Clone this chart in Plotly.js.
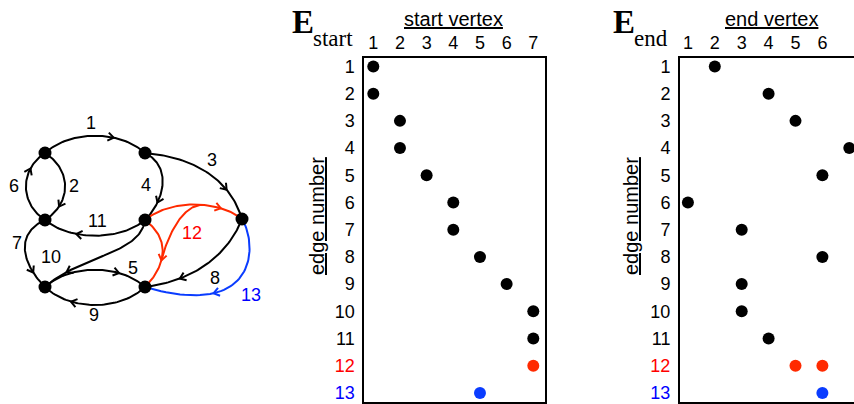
<!DOCTYPE html>
<html><head><meta charset="utf-8">
<script src="https://cdn.plot.ly/plotly-3.0.1.min.js"></script>
<style>html,body{margin:0;padding:0;background:#fff;} #chart{width:854px;height:404px;}</style>
</head><body><div id="chart"></div>
<script>
// ---------------- data ----------------
const vertices    = [1, 2, 3, 4, 5, 6, 7];
const vertexX     = [45, 145, 45, 45, 242, 145, 145];
const vertexY     = [153, 153, 287, 220, 219, 287, 220];
const edges       = [1, 2, 3, 4, 5, 6, 7, 8, 9, 10, 11, 12, 13];
const startVertex = [1, 1, 2, 2, 3, 4, 4, 5, 6, 7, 7, 7, 5];
const endEdge     = [1, 2, 3, 4, 5, 6, 7, 8, 9, 10, 11, 12, 12, 13];
const endVertex   = [2, 4, 5, 7, 6, 1, 3, 6, 3, 3, 4, 5, 6, 6];
const colTicks    = [1, 2, 3, 4, 5, 6, 7];
const rowTicks    = [1, 2, 3, 4, 5, 6, 7, 8, 9, 10, 11, 12, 13];
const rowLabels   = ['1','2','3','4','5','6','7','8','9','10','11','12','13'];

// ---------------- styles ----------------
const W = 854, H = 404;
const px = x => x / W, py = y => 1 - y / H;
const RED = '#ff2a00', BLUE = '#0a3cff', REDT = '#ff0000', BLUET = '#0000ff';
const SANS = 'Liberation Sans, Arial, Helvetica, sans-serif';
const SERIF = 'Liberation Serif, Times New Roman, serif';
const edgeColor = e => e === 12 ? RED : (e === 13 ? BLUE : '#000');
const edgeTextColor = e => e === 12 ? REDT : (e === 13 ? BLUET : '#000');

// curve shape per entry of endEdge: [u1,v1,u2,v2,arrowT] (control points relative to chord)
const curveStyle = [
  [0.25, -0.23, 0.75, -0.23, 0.65],
  [0.25, -0.40, 0.75, -0.40, 0.75],
  [0.37, -0.21, 0.73, -0.22, 0.70],
  [0.20, -0.40, 0.70, -0.30, 0.72],
  [0.25, -0.23, 0.75, -0.23, 0.70],
  [0.25, -0.38, 0.75, -0.38, 0.72],
  [0.20, 0.45, 0.65, 0.35, 0.78],
  [0.233, -0.156, 0.586, -0.218, 0.75],
  [0.25, -0.24, 0.75, -0.24, 0.70],
  [0.196, -0.218, 0.61, 0.059, 0.80],
  [0.25, -0.21, 0.75, -0.21, 0.65],
  [0.25, -0.206, 0.75, -0.206, 0.74],
  [0.30, -0.40, 0.70, -0.30, 0.57],
  [0.015, -0.257, 0.379, -0.776, 0.72]
];
// branch of hyper-edge 12 linking its two curves (curve index, parameter)
const connector = {edge: 12, fromCurve: 12, fromT: 0.58, toCurve: 11, toT: 0.6,
  startDir: [0.25, -1], startLen: 22, endLen: 22};
// edge label placement (graph pixel space)
const labelPos = {1:[91,123],2:[74,186],3:[212,160],4:[146,185],5:[133,268],6:[14,186],7:[17,243],
  8:[215,278],9:[94,315],10:[51,257],11:[97,221],12:[192,233],13:[251,295]};

// ---------------- geometry helpers ----------------
function ctrl(p0, p3, u, v) {
  const dx = p3[0] - p0[0], dy = p3[1] - p0[1];
  return [p0[0] + u * dx - v * dy, p0[1] + u * dy + v * dx];
}
function bez(p0, c1, c2, p3, t) {
  const m = 1 - t;
  const a = m*m*m, b = 3*m*m*t, c = 3*m*t*t, d = t*t*t;
  return [a*p0[0]+b*c1[0]+c*c2[0]+d*p3[0], a*p0[1]+b*c1[1]+c*c2[1]+d*p3[1]];
}
function bezD(p0, c1, c2, p3, t) {
  const m = 1 - t;
  const f = (i) => 3*m*m*(c1[i]-p0[i]) + 6*m*t*(c2[i]-c1[i]) + 3*t*t*(p3[i]-c2[i]);
  return [f(0), f(1)];
}
const vpos = v => [vertexX[vertices.indexOf(v)], vertexY[vertices.indexOf(v)]];
const unit = d => { const L = Math.hypot(d[0], d[1]); return [d[0] / L, d[1] / L]; };

const traces = [];
const curves = [];
function drawBezier(e, p0, c1, c2, p3, arrowT) {
  const xs = [], ys = [];
  for (let i = 0; i <= 60; i++) { const q = bez(p0, c1, c2, p3, i / 60); xs.push(q[0]); ys.push(q[1]); }
  traces.push({type:'scatter', mode:'lines', x:xs, y:ys, xaxis:'x', yaxis:'y',
    line:{color:edgeColor(e), width:2}, hoverinfo:'skip'});
  if (arrowT != null) {
    const tip = bez(p0, c1, c2, p3, arrowT);
    const t = unit(bezD(p0, c1, c2, p3, arrowT));
    const nx = -t[1], ny = t[0];
    const len = 7, ca = Math.cos(0.62), sa = Math.sin(0.62);
    const tp = [tip[0] + t[0] * 2, tip[1] + t[1] * 2];
    traces.push({type:'scatter', mode:'lines', xaxis:'x', yaxis:'y', hoverinfo:'skip',
      x:[tp[0] - len*ca*t[0] + len*sa*nx, tp[0], tp[0] - len*ca*t[0] - len*sa*nx],
      y:[tp[1] - len*ca*t[1] + len*sa*ny, tp[1], tp[1] - len*ca*t[1] - len*sa*ny],
      line:{color:edgeColor(e), width:2}});
  }
}
endEdge.forEach((e, i) => {
  const s = curveStyle[i];
  const p0 = vpos(startVertex[e - 1]), p3 = vpos(endVertex[i]);
  const c1 = ctrl(p0, p3, s[0], s[1]), c2 = ctrl(p0, p3, s[2], s[3]);
  curves.push([p0, c1, c2, p3]);
  drawBezier(e, p0, c1, c2, p3, s[4]);
});
(function () {
  const A = curves[connector.fromCurve], B = curves[connector.toCurve];
  const p0 = bez(A[0], A[1], A[2], A[3], connector.fromT);
  const p3 = bez(B[0], B[1], B[2], B[3], connector.toT);
  const sd = unit(connector.startDir);
  const ed = unit(bezD(B[0], B[1], B[2], B[3], connector.toT));
  const c1 = [p0[0] + sd[0] * connector.startLen, p0[1] + sd[1] * connector.startLen];
  const c2 = [p3[0] - ed[0] * connector.endLen, p3[1] - ed[1] * connector.endLen];
  drawBezier(connector.edge, p0, c1, c2, p3, null);
})();

traces.push({type:'scatter', mode:'markers', x:vertexX, y:vertexY, xaxis:'x', yaxis:'y',
  marker:{color:'#000', size:13}, hoverinfo:'skip'});

// incidence matrices
traces.push({type:'scatter', mode:'markers', x:startVertex, y:edges, xaxis:'x2', yaxis:'y2',
  marker:{size:12, color:edges.map(edgeColor)}, cliponaxis:false, hoverinfo:'skip'});
traces.push({type:'scatter', mode:'markers', x:endVertex, y:endEdge, xaxis:'x3', yaxis:'y3',
  marker:{size:12, color:endEdge.map(edgeColor)}, hoverinfo:'skip'});

const rowText = rowLabels.map((t, i) => {
  const c = edgeTextColor(rowTicks[i]);
  return c === '#000' ? t : '<span style="color:' + c + '">' + t + '</span>';
});
const tickFont = {family: SANS, size: 18, color: '#000'};
const frame = {showgrid:false, zeroline:false, showline:true, linewidth:2, linecolor:'#000',
  mirror:true, ticks:'', tickfont:tickFont, fixedrange:true};

const annotations = [];
Object.keys(labelPos).forEach(k => {
  const e = +k;
  annotations.push({xref:'x', yref:'y', x:labelPos[k][0], y:labelPos[k][1], text:String(e),
    showarrow:false, xanchor:'center', yanchor:'middle',
    font:{family:SANS, size:18, color:edgeTextColor(e)}});
});
function matrixTitles(eLeft, subText, topCenter, topText, sideX) {
  annotations.push({xref:'paper', yref:'paper', x:px(eLeft), y:py(22), text:'<b>E</b>',
    showarrow:false, xanchor:'left', yanchor:'middle', font:{family:SERIF, size:33, color:'#000'}});
  annotations.push({xref:'paper', yref:'paper', x:px(eLeft + 21), y:py(39), text:subText,
    showarrow:false, xanchor:'left', yanchor:'middle', font:{family:SERIF, size:23, color:'#000'}});
  annotations.push({xref:'paper', yref:'paper', x:px(topCenter), y:py(19), text:'<u>' + topText + '</u>',
    showarrow:false, xanchor:'center', yanchor:'middle', font:{family:SANS, size:20, color:'#000'}});
  annotations.push({xref:'paper', yref:'paper', x:px(sideX), y:py(216), text:'<u>edge number</u>',
    showarrow:false, textangle:-90, xanchor:'center', yanchor:'middle', font:{family:SANS, size:20, color:'#000'}});
}
matrixTitles(290, 'start', 453.7, 'start vertex', 317);
matrixTitles(611, 'end', 771.7, 'end vertex', 631);

const layout = {
  width: W, height: H, margin:{l:0, r:0, t:0, b:0}, showlegend:false,
  paper_bgcolor:'#fff', plot_bgcolor:'rgba(0,0,0,0)', hovermode:false,
  xaxis:{domain:[0,1], range:[0, W], visible:false, fixedrange:true},
  yaxis:{domain:[0,1], range:[H, 0], visible:false, fixedrange:true},
  xaxis2:Object.assign({}, frame, {domain:[px(364.3), px(544.7)], range:[0.6625, 7.4275],
    anchor:'y2', side:'top', tickvals:colTicks, ticktext:colTicks.map(String)}),
  yaxis2:Object.assign({}, frame, {domain:[py(402.3), py(58.3)], range:[13.345, 0.70],
    anchor:'x2', tickvals:rowTicks, ticktext:rowText, ticklabelstandoff:4}),
  xaxis3:Object.assign({}, frame, {domain:[px(680), 1], range:[0.706, 7.175],
    anchor:'y3', side:'top', tickvals:colTicks, ticktext:colTicks.map(String)}),
  yaxis3:Object.assign({}, frame, {domain:[py(402.3), py(58.3)], range:[13.345, 0.70],
    anchor:'x3', tickvals:rowTicks, ticktext:rowText, ticklabelstandoff:4}),
  annotations: annotations
};
Plotly.newPlot('chart', traces, layout, {staticPlot:true, displayModeBar:false});
</script></body></html>
